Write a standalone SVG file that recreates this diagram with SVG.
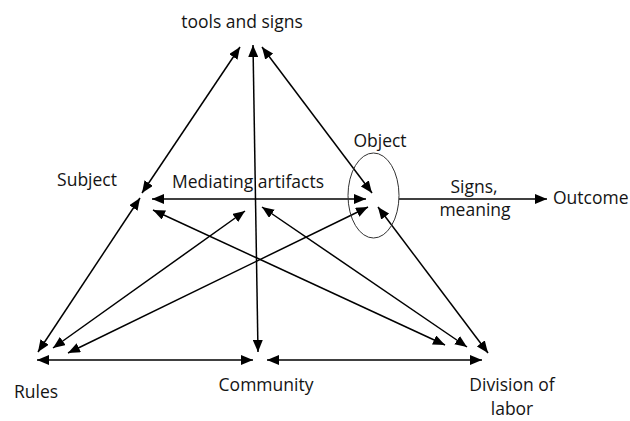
<svg xmlns="http://www.w3.org/2000/svg" width="630" height="421" viewBox="0 0 630 421">
  <style>
    .lbl { font-family: "Open Sans", "Liberation Sans", sans-serif; font-size: 17.5px; fill: #141414; }
    .edge { stroke: #000; stroke-width: 1.5; fill: none; }
    .both { marker-start: url(#head); marker-end: url(#head); }
    .one { marker-end: url(#head); }
  </style>
  <defs>
    <marker id="head" viewBox="0 0 12 10" refX="12" refY="5" markerWidth="12" markerHeight="10" markerUnits="userSpaceOnUse" orient="auto-start-reverse">
      <path d="M0,0 L12,5 L0,10 z" fill="#000"/>
    </marker>
  </defs>
  <rect width="630" height="421" fill="#fff"/>

  <g id="connectors">
    <line class="edge both" x1="240" y1="47" x2="142" y2="193"/>
    <line class="edge both" x1="253" y1="45" x2="258" y2="352"/>
    <line class="edge both" x1="262" y1="47" x2="372" y2="193"/>
    <line class="edge both" x1="152" y1="199" x2="366" y2="199"/>
    <line class="edge both" x1="140" y1="198" x2="38" y2="352"/>
    <line class="edge both" x1="245" y1="211" x2="53" y2="348"/>
    <line class="edge both" x1="368" y1="207" x2="68" y2="353"/>
    <line class="edge both" x1="153" y1="210" x2="445" y2="345"/>
    <line class="edge both" x1="262" y1="207" x2="467" y2="347"/>
    <line class="edge both" x1="378" y1="207" x2="488" y2="353"/>
    <line class="edge both" x1="37" y1="360" x2="253" y2="360"/>
    <line class="edge both" x1="267" y1="360" x2="482" y2="360"/>
    <line class="edge one" x1="399" y1="199" x2="547" y2="199"/>
  </g>

  <g id="tools">
    <text class="lbl" x="242" y="28" text-anchor="middle">tools and signs</text>
  </g>
  <g id="subject">
    <text class="lbl" x="87" y="186" text-anchor="middle">Subject</text>
  </g>
  <g id="mediating">
    <text class="lbl" x="248" y="188" text-anchor="middle">Mediating artifacts</text>
  </g>
  <g id="object">
    <ellipse cx="373.5" cy="195.5" rx="25.5" ry="42.5" fill="none" stroke="#333" stroke-width="1"/>
    <text class="lbl" x="380" y="147" text-anchor="middle">Object</text>
  </g>
  <g id="signs">
    <text class="lbl" x="474" y="193" text-anchor="middle">Signs,</text>
    <text class="lbl" x="475" y="216" text-anchor="middle">meaning</text>
  </g>
  <g id="outcome">
    <text class="lbl" x="553" y="204">Outcome</text>
  </g>
  <g id="rules">
    <text class="lbl" x="36" y="398" text-anchor="middle">Rules</text>
  </g>
  <g id="community">
    <text class="lbl" x="266" y="391" text-anchor="middle">Community</text>
  </g>
  <g id="division">
    <text class="lbl" x="512" y="391" text-anchor="middle">Division of</text>
    <text class="lbl" x="512" y="415" text-anchor="middle">labor</text>
  </g>
</svg>
